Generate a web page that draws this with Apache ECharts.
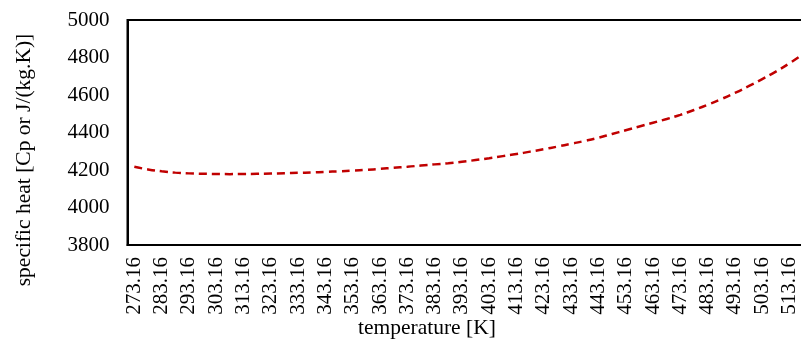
<!DOCTYPE html>
<html>
<head>
<meta charset="utf-8">
<script src="https://cdn.jsdelivr.net/npm/echarts@6/dist/echarts.min.js"></script>
<style>
html,body{margin:0;padding:0;background:#fff;overflow:hidden;width:801px;height:343px;}
#chart{width:810px;height:343px;}
</style>
</head>
<body>
<div id="chart"></div>
<script>
// temperature categories [K], every 5 K
var temperatures = ['273.16','278.16','283.16','288.16','293.16','298.16','303.16','308.16','313.16','318.16',
  '323.16','328.16','333.16','338.16','343.16','348.16','353.16','358.16','363.16','368.16',
  '373.16','378.16','383.16','388.16','393.16','398.16','403.16','408.16','413.16','418.16',
  '423.16','428.16','433.16','438.16','443.16','448.16','453.16','458.16','463.16','468.16',
  '473.16','478.16','483.16','488.16','493.16','498.16','503.16','508.16','513.16','518.16'];
// specific heat Cp [J/(kg.K)]
var specificHeat = [4217,4203,4193,4186,4182,4180,4178.5,4178,4178.5,4179.5,
  4181,4183,4185,4187,4190,4193,4197,4201,4206,4212,
  4217,4224,4230,4236,4244,4253,4263,4274,4285,4298,
  4311,4325,4340,4355,4372,4392,4412,4432,4452,4472,
  4494,4520,4548,4578,4611,4647,4685,4725,4769,4818];
var yTicks = {min:3800, max:5000, interval:200};
var xTitle = 'temperature [K]';
var yTitle = 'specific heat [Cp or J/(kg.K)]';

var font = 'Liberation Serif';
var chart = echarts.init(document.getElementById('chart'));
chart.setOption({
  animation:false,
  backgroundColor:'#fff',
  grid:{left:127.5, top:20, bottom:98, right:0, show:true, borderColor:'#000', borderWidth:2, containLabel:false},
  xAxis:{
    type:'category', data:temperatures, boundaryGap:true,
    axisLine:{show:true, lineStyle:{color:'#000', width:2}},
    axisTick:{show:false},
    splitLine:{show:false},
    axisLabel:{interval:1, rotate:90, color:'#000', fontFamily:font, fontSize:21, margin:12}
  },
  yAxis:{
    type:'value', min:yTicks.min, max:yTicks.max, interval:yTicks.interval,
    axisLine:{show:true, lineStyle:{color:'#000', width:2}},
    axisTick:{show:false},
    splitLine:{show:false},
    axisLabel:{color:'#000', fontFamily:font, fontSize:21, margin:18, formatter:function(v){return String(v);}}
  },
  graphic:[
    {type:'text', left:358, top:317, style:{text:xTitle, fill:'#000', font:'21.5px "Liberation Serif"'}},
    {type:'text', x:24, y:160, rotation:Math.PI/2, style:{text:yTitle, fill:'#000', font:'21.5px "Liberation Serif"', align:'center', verticalAlign:'middle'}}
  ],
  series:[{
    type:'line', data:specificHeat, smooth:true, symbol:'none',
    lineStyle:{color:'#C00000', width:2.5, type:[8,5]}
  }]
});
</script>
</body>
</html>
